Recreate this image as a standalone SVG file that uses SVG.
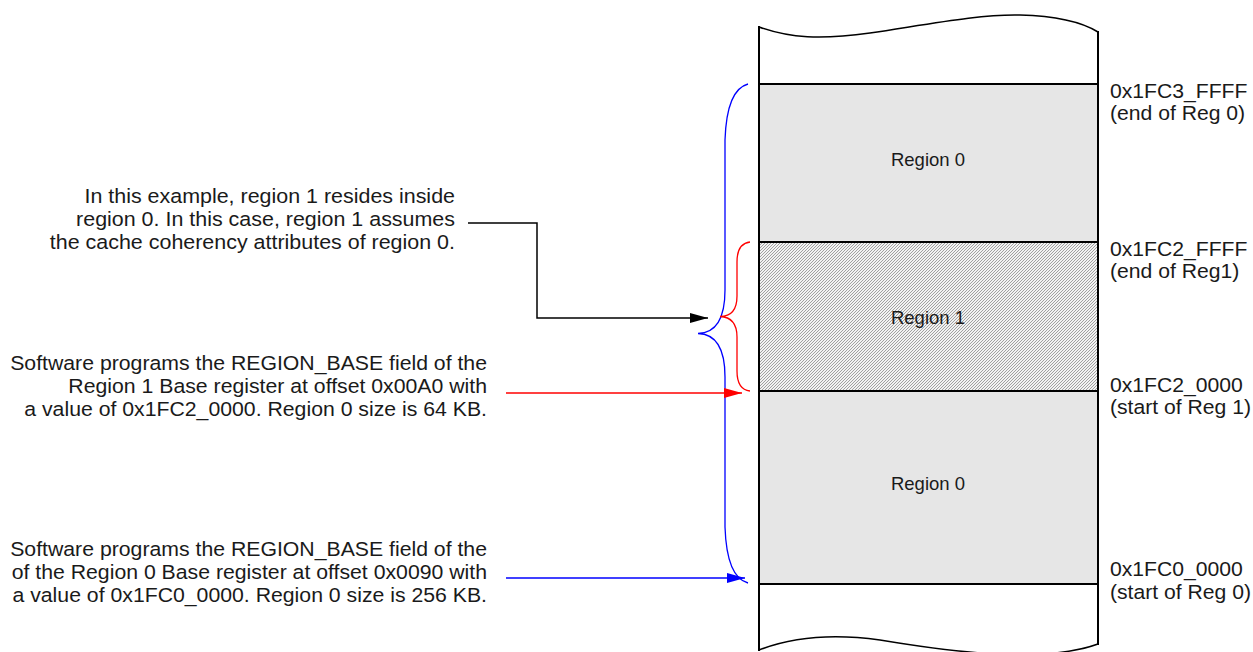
<svg xmlns="http://www.w3.org/2000/svg" width="1253" height="652" viewBox="0 0 1253 652">
<defs>
<style>
text{font-family:"Liberation Sans",Arial,sans-serif;font-size:19.5px;fill:#1a1a1a}
.lbl{font-size:18.5px}
.r{text-anchor:end}
.m{text-anchor:middle}
.box{stroke:#000;stroke-width:2;fill:none}
.wave{stroke:#000;stroke-width:1.5;fill:none}
</style>
<pattern id="hatch" width="3" height="3" patternUnits="userSpaceOnUse">
<rect width="3" height="3" fill="#f2f2f2"/>
<rect x="0" y="2" width="1" height="1" fill="#a0a0a0"/>
<rect x="1" y="1" width="1" height="1" fill="#a0a0a0"/>
<rect x="2" y="0" width="1" height="1" fill="#a0a0a0"/>
</pattern>
<marker id="ab" markerWidth="18" markerHeight="10" refX="18" refY="5" orient="auto" markerUnits="userSpaceOnUse"><path d="M0,0 L18,5 L0,10 Z" fill="#000"/></marker>
<marker id="ar" markerWidth="18" markerHeight="10" refX="18" refY="5" orient="auto" markerUnits="userSpaceOnUse"><path d="M0,0 L18,5 L0,10 Z" fill="#f00"/></marker>
<marker id="au" markerWidth="18" markerHeight="10" refX="18" refY="5" orient="auto" markerUnits="userSpaceOnUse"><path d="M0,0 L18,5 L0,10 Z" fill="#00f"/></marker>
</defs>
<rect width="1253" height="652" fill="#fff"/>
<g id="memory-map">
<rect x="759" y="84" width="339" height="158" fill="#e6e6e6"/>
<rect x="759" y="242" width="339" height="149" fill="url(#hatch)"/>
<rect x="759" y="391" width="339" height="193" fill="#e6e6e6"/>
<path class="wave" d="M759,27 C790,38 820,40 870,33 C930,24 980,14 1020,15 C1060,16 1085,24 1098,32"/>
<path class="wave" d="M759,650 C790,638 830,633 880,640 C940,650 1040,665 1098,644"/>
<line class="box" x1="759" y1="26" x2="759" y2="651"/>
<line class="box" x1="1098" y1="31" x2="1098" y2="645"/>
<line class="box" x1="759" y1="84" x2="1098" y2="84"/>
<line class="box" x1="759" y1="242" x2="1098" y2="242"/>
<line class="box" x1="759" y1="391" x2="1098" y2="391"/>
<line class="box" x1="759" y1="584" x2="1098" y2="584"/>
</g>
<g id="region0-top"><text class="m lbl" x="928" y="166">Region 0</text></g>
<g id="region1"><text class="m lbl" x="928" y="324">Region 1</text></g>
<g id="region0-bottom"><text class="m lbl" x="928" y="490">Region 0</text></g>
<g id="addresses" transform="translate(1110,0) scale(1.085,1) translate(-1110,0)">
<g id="addr-1fc3ffff"><text x="1110" y="98">0x1FC3_FFFF</text><text x="1110" y="120">(end of Reg 0)</text></g>
<g id="addr-1fc2ffff"><text x="1110" y="256">0x1FC2_FFFF</text><text x="1110" y="278">(end of Reg1)</text></g>
<g id="addr-1fc20000"><text x="1110" y="392">0x1FC2_0000</text><text x="1110" y="414">(start of Reg 1)</text></g>
<g id="addr-1fc00000"><text x="1110" y="576">0x1FC0_0000</text><text x="1110" y="599">(start of Reg 0)</text></g>
</g>
<g id="note-inside" transform="translate(455,0) scale(1.1,1) translate(-455,0)"><text class="r" x="455" y="203">In this example, region 1 resides inside</text><text class="r" x="455" y="226">region 0. In this case, region 1 assumes</text><text class="r" x="455" y="249">the cache coherency attributes of region 0.</text></g>
<g id="note-region1" transform="translate(487,0) scale(1.09,1) translate(-487,0)"><text class="r" x="487" y="370">Software programs the REGION_BASE field of the</text><text class="r" x="487" y="393">Region 1 Base register at offset 0x00A0 with</text><text class="r" x="487" y="416">a value of 0x1FC2_0000. Region 0 size is 64 KB.</text></g>
<g id="note-region0" transform="translate(487,0) scale(1.09,1) translate(-487,0)"><text class="r" x="487" y="556">Software programs the REGION_BASE field of the</text><text class="r" x="487" y="579">of the Region 0 Base register at offset 0x0090 with</text><text class="r" x="487" y="602">a value of 0x1FC0_0000. Region 0 size is 256 KB.</text></g>
<g id="connectors">
<path d="M748,84 C733,88 726,110 725,140 L725,290 C725,318 716,333 698,333.5 C716,334 725,349 725,377 L725,527 C726,557 733,579 748,583" fill="none" stroke="#00f" stroke-width="1.3"/>
<path d="M750,242 C741,243 737,250 737,262 L737,296 C737,310 731,316.5 720,316.5 C731,317 737,323 737,337 L737,371 C737,383 741,390 750,391" fill="none" stroke="#f00" stroke-width="1.3"/>
<path d="M468,223 L537,223 L537,318 L708,318" fill="none" stroke="#000" stroke-width="1.5" marker-end="url(#ab)"/>
<line x1="506" y1="393" x2="742" y2="393" stroke="#f00" stroke-width="1.5" marker-end="url(#ar)"/>
<line x1="506" y1="578" x2="745" y2="578" stroke="#00f" stroke-width="1.5" marker-end="url(#au)"/>
</g>
</svg>
